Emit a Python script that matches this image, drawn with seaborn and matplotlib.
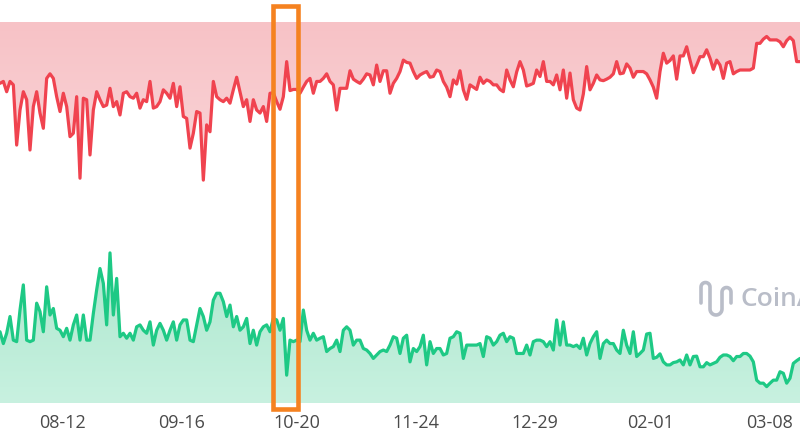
import seaborn as sns
import matplotlib.pyplot as plt
import matplotlib.dates as mdates
import pandas as pd
import numpy as np
from matplotlib.colors import LinearSegmentedColormap
from matplotlib.patches import Rectangle
from matplotlib.path import Path
from matplotlib.patches import PathPatch

# --- Data (daily, 0-100 scale) ---
# red series: filled from the line up to the top
short_line = [
    83.9, 84.4, 81.7, 84.4, 83.5, 67.7, 76.9, 81.7, 79.6, 66.4,
    77.8, 81.7, 76.1, 72.1, 85.2, 86.4, 85.2, 80.4, 76.5, 81.3,
    77.8, 69.9, 70.8, 80.4, 59.0, 80.0, 79.6, 65.1, 76.9, 81.7,
    79.6, 77.8, 78.2, 82.6, 77.8, 79.1, 75.6, 81.3, 81.7, 80.4,
    80.0, 81.3, 77.4, 79.6, 79.1, 84.4, 77.4, 77.8, 79.1, 82.2,
    81.3, 80.0, 83.9, 77.8, 83.0, 75.2, 74.7, 66.9, 70.8, 76.5,
    76.1, 58.5, 73.0, 71.2, 84.4, 80.4, 79.6, 79.1, 80.0, 78.7,
    82.2, 85.5, 81.7, 77.8, 79.6, 73.9, 79.6, 76.9, 76.1, 77.8,
    73.9, 81.3,
    81.4, 79.1, 77.1, 80.4, 89.6, 82.0, 82.3, 82.3, 81.3, 82.9,
    84.4, 85.2, 81.3, 84.4, 84.4, 85.2, 86.4, 84.4, 83.5, 76.9,
    82.6, 82.6, 82.6, 87.2, 85.0, 84.4, 83.9, 85.0, 86.4, 86.1,
    83.5, 88.7, 84.4, 87.2, 87.2, 81.3, 83.9, 85.2, 87.0, 90.0,
    89.4, 89.2, 87.0, 85.2, 86.1, 86.6, 87.0, 85.5, 85.7, 87.4,
    87.0, 84.4, 82.9, 80.4, 84.8, 83.7, 87.2, 82.2, 79.7, 83.5,
    82.9, 82.3, 85.5, 83.9, 84.8, 84.4, 83.5, 83.5, 82.3, 81.7,
    87.4, 84.8, 83.0, 86.9, 89.6, 87.4, 83.2, 83.5, 83.9, 87.4,
    85.7, 89.6, 84.4, 84.4, 83.5, 86.1, 82.2, 87.4, 80.0, 86.6,
    79.6, 77.4, 76.9, 81.1, 88.3, 82.2, 83.9, 86.1, 84.8, 84.6,
    85.0, 85.5, 86.4, 89.6, 86.4, 86.6, 89.0, 87.9, 85.5, 87.0,
    87.0, 87.0, 86.4, 84.8, 82.9, 80.0, 87.0, 91.8, 89.2, 89.9,
    91.1, 85.0, 91.1, 91.1, 93.5, 90.0, 86.7, 88.7, 90.9, 90.9,
    92.7, 90.5, 87.6, 90.0, 88.7, 85.2, 89.2, 89.6, 86.4, 87.0,
    87.4, 87.4, 87.4, 87.4, 87.9, 94.4, 94.4, 95.5, 96.2, 95.3,
    95.3, 95.3, 94.8, 93.5, 95.1, 96.0, 95.1, 89.6, 89.6,
]

# green series: filled from the bottom up to the line
long_line = [
    18.7, 15.6, 18.3, 22.7, 16.5, 16.1, 24.4, 31.0, 16.5, 16.1,
    16.5, 26.2, 24.0, 18.7, 30.5, 23.1, 24.8, 19.6, 19.1, 17.4,
    19.6, 16.5, 20.5, 23.1, 16.5, 23.1, 16.5, 16.5, 23.5, 29.7,
    35.3, 31.4, 20.5, 39.4, 23.1, 32.7, 17.4, 18.3, 17.0, 18.3,
    16.5, 20.0, 20.5, 19.1, 18.3, 21.3, 15.2, 19.1, 20.9, 19.1,
    16.5, 19.1, 21.3, 16.5, 20.5, 21.8, 21.8, 16.5, 16.1, 20.5,
    24.8, 22.7, 19.1, 21.3, 27.0, 28.8, 28.8, 26.6, 22.7, 25.7,
    20.0, 22.7, 19.1, 20.0, 22.2, 15.6, 19.1, 15.2, 18.7, 20.0,
    20.5, 18.7,
    22.2, 21.8, 19.1, 22.2, 7.3, 16.5, 16.1, 16.5, 16.1, 24.4,
    19.1, 16.5, 18.3, 16.5, 17.0, 17.4, 13.5, 14.3, 14.8, 16.5,
    13.5, 19.1, 20.0, 19.1, 15.2, 16.5, 16.5, 14.3, 13.9, 13.0,
    11.7, 12.6, 13.5, 13.9, 13.5, 15.2, 17.4, 17.0, 13.0, 17.0,
    17.8, 10.8, 14.3, 13.5, 14.8, 17.8, 10.0, 16.1, 13.0, 14.3,
    14.3, 12.6, 13.0, 17.0, 17.4, 18.7, 18.3, 11.7, 15.2, 15.2,
    15.2, 15.2, 15.6, 12.2, 17.4, 17.0, 15.2, 16.1, 17.8, 18.3,
    16.1, 17.4, 17.0, 13.0, 13.0, 13.0, 15.2, 12.6, 16.1, 16.5,
    16.5, 16.1, 14.8, 16.1, 13.9, 21.8, 15.2, 21.3, 15.2, 15.2,
    14.8, 15.2, 14.3, 17.0, 12.6, 15.6, 17.4, 18.7, 11.7, 15.6,
    16.5, 15.6, 15.6, 13.9, 13.0, 19.1, 15.2, 13.0, 18.7, 12.2,
    13.0, 13.9, 18.1, 18.3, 11.7, 12.0, 12.9, 10.8, 10.0, 10.0,
    10.6, 10.8, 11.3, 10.0, 12.6, 10.0, 12.2, 12.3, 9.5, 9.5,
    10.6, 10.0, 10.4, 10.8, 12.0, 12.6, 12.6, 12.2, 11.1, 12.2,
    12.2, 13.0, 13.0, 12.3, 10.8, 6.0, 5.2, 5.2, 4.3, 5.2,
    6.0, 6.0, 8.2, 7.8, 5.2, 6.5, 10.4, 11.1, 11.7,
]

tick_labels = ["08-12", "09-16", "10-20", "11-24", "12-29", "02-01", "03-08"]
tick_dates = ["2024-08-12", "2024-09-16", "2024-10-20", "2024-11-24",
              "2024-12-29", "2025-02-01", "2025-03-08"]
start, end = pd.Timestamp("2024-07-24 12:00"), pd.Timestamp("2025-03-17 03:00")
highlight = (pd.Timestamp("2024-10-13 00:00"), pd.Timestamp("2024-10-20 03:00"))

dates = pd.date_range(start, end, periods=len(short_line))
df = pd.DataFrame({"date": dates, "short": short_line, "long": long_line})

RED, GREEN = "#f0434f", "#1ec985"

sns.set_style("white")
fig = plt.figure(figsize=(8, 4.45), dpi=100)
ax = fig.add_axes([0, 42 / 445, 1, 381 / 445])


def gradient_fill(poly, c_top, c_bot, y_bot, y_top):
    poly.set_facecolor("none")
    poly.set_edgecolor("none")
    cmap = LinearSegmentedColormap.from_list("g", [c_bot, c_top])
    grad = np.linspace(0, 1, 256).reshape(-1, 1)
    x0, x1 = mdates.date2num(start), mdates.date2num(end)
    im = ax.imshow(grad, cmap=cmap, aspect="auto", origin="lower",
                   extent=[x0, x1, y_bot, y_top], zorder=1)
    im.set_clip_path(poly.get_paths()[0], transform=ax.transData)


poly_r = ax.fill_between(df["date"], df["short"], 100, linewidth=0)
gradient_fill(poly_r, "#f7c2c6", "#fbd9dc", 50, 100)
poly_g = ax.fill_between(df["date"], 0, df["long"], linewidth=0)
gradient_fill(poly_g, "#abe7cd", "#c8f1e0", 0, 40)

line_kw = dict(linewidth=2.3, ax=ax, zorder=3, solid_joinstyle="round",
               solid_capstyle="round")
sns.lineplot(data=df, x="date", y="short", color=RED, **line_kw)
sns.lineplot(data=df, x="date", y="long", color=GREEN, **line_kw)

ax.set_xlim(start, end)
ax.set_ylim(0, 100)
ax.set_xticks(pd.to_datetime(tick_dates))
ax.set_xticklabels(tick_labels, fontsize=13, color="#4a4a4a", family="Open Sans")
ax.tick_params(axis="x", length=0, pad=8)
ax.set_yticks([])
ax.set_xlabel("")
ax.set_ylabel("")
for s in ax.spines.values():
    s.set_visible(False)

# orange highlight box
x0 = mdates.date2num(highlight[0])
x1 = mdates.date2num(highlight[1])
ax.add_patch(Rectangle((x0, -1.7), x1 - x0, 105.8, fill=False, edgecolor="#f58220",
                       linewidth=3.3, clip_on=False, zorder=5))

# watermark logo + name (cut at the right edge, as in the reference)
W, H = 800, 445
def to_fig(px, py):
    return px / W, 1 - py / H

pts = [(701, 303), (701, 287)]
for a in np.linspace(np.pi, 0, 12):
    pts.append((705.5 + 4.5 * np.cos(a), 287 - 4.5 * np.sin(a)))
pts += [(710, 287), (710, 309)]
for a in np.linspace(np.pi, 2 * np.pi, 14):
    pts.append((716 + 6 * np.cos(a), 309 - 6 * np.sin(a)))
pts += [(722, 309), (722, 292)]
for a in np.linspace(np.pi, 0, 12):
    pts.append((726.5 + 4.5 * np.cos(a), 292 - 4.5 * np.sin(a)))
pts += [(731, 292), (731, 303)]
logo = Path([to_fig(*p) for p in pts])
fig.add_artist(PathPatch(logo, transform=fig.transFigure, fill=False,
                         edgecolor="#b9bdc8", linewidth=2.6, capstyle="round",
                         joinstyle="round", zorder=6))
fig.text(740 / W, 1 - 299 / H, "CoinAnk", fontsize=19, color="#b9bdc8",
         family="Open Sans", weight="semibold", va="center", ha="left", zorder=6)

plt.savefig("out.png", dpi=100)
